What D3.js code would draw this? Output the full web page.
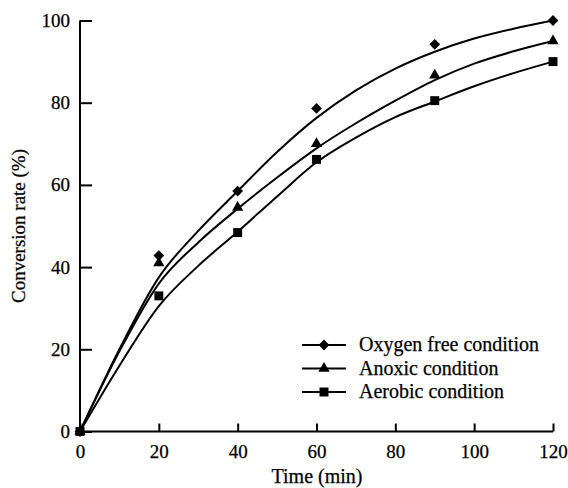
<!DOCTYPE html>
<html>
<head>
<meta charset="utf-8">
<script src="https://cdn.jsdelivr.net/npm/d3@7"></script>
<style>
  body { margin: 0; background: #fff; }
  svg text { font-family: "Times New Roman", "Liberation Serif", Times, serif; fill: #000; stroke: #000; stroke-width: 0.25px; }
</style>
</head>
<body>
<div id="chart"></div>
<script>
// measured points
var times = [0, 20, 40, 60, 90, 120];
var oxygenFree = [0, 42.8, 58.5, 78.6, 94.2, 100];
var anoxic = [0, 41, 54.5, 70, 86.7, 95];
var aerobic = [0, 33, 48.4, 66.2, 80.5, 90];

// fitted curves, every 10 min
var curveTimes = [0, 10, 20, 30, 40, 50, 60, 70, 80, 90, 100, 110, 120];
var oxygenFreeFit = [0, 20, 37.5, 48.8, 58.5, 68, 76.3, 83, 88.3, 92.4, 95.6, 98, 100];
var anoxicFit = [0, 19.5, 36, 46, 54.2, 61.8, 68.9, 75, 80.5, 85.5, 89.5, 92.5, 95];
var aerobicFit = [0, 16, 30.5, 40.3, 48.6, 57.2, 65.5, 71.5, 76.5, 80.3, 84, 87.2, 90];

var seriesNames = ['Oxygen free condition', 'Anoxic condition', 'Aerobic condition'];
var xTicks = [0, 20, 40, 60, 80, 100, 120];
var yTicks = [0, 20, 40, 60, 80, 100];

var w = 568, h = 488;
var x = d3.scaleLinear().domain([0, 120]).range([80, 553]);
var y = d3.scaleLinear().domain([0, 100]).range([431.5, 20.5]);

var svg = d3.select('#chart').append('svg')
  .attr('width', w)
  .attr('height', h);

// diamond is a square turned 45 degrees
var series = [
  { name: seriesNames[0], pts: oxygenFree, fit: oxygenFreeFit, sym: d3.symbolSquare, size: 58, rot: 45 },
  { name: seriesNames[1], pts: anoxic, fit: anoxicFit, sym: d3.symbolTriangle, size: 55, rot: 0 },
  { name: seriesNames[2], pts: aerobic, fit: aerobicFit, sym: d3.symbolSquare, size: 80, rot: 0 }
];

var line = d3.line()
  .x(function(d) { return x(d[0]); })
  .y(function(d) { return y(d[1]); })
  .curve(d3.curveMonotoneX);

series.forEach(function(s) {
  svg.append('path')
    .datum(curveTimes.map(function(t, i) { return [t, s.fit[i]]; }))
    .attr('d', line)
    .attr('fill', 'none')
    .attr('stroke', '#000')
    .attr('stroke-width', 2);

  svg.append('g').selectAll('path')
    .data(times.map(function(t, i) { return [t, s.pts[i]]; }))
    .enter().append('path')
    .attr('d', d3.symbol().type(s.sym).size(s.size))
    .attr('transform', function(d) { return 'translate(' + x(d[0]) + ',' + y(d[1]) + ') rotate(' + s.rot + ')'; })
    .attr('fill', '#000');
});

// axes, ticks pointing inward
var xaxis = d3.axisBottom(x).tickValues(xTicks).tickSize(-8).tickPadding(13);
var yaxis = d3.axisLeft(y).tickValues(yTicks).tickSize(-12).tickPadding(10);

var gx = svg.append('g')
  .attr('transform', 'translate(0,431.5)')
  .call(xaxis);
var gy = svg.append('g')
  .attr('transform', 'translate(80,0)')
  .call(yaxis);

[gx, gy].forEach(function(g) {
  g.attr('font-family', null);
  g.select('.domain').attr('stroke-width', 2);
  g.selectAll('.tick line').attr('stroke-width', 2);
  g.selectAll('.tick text').attr('font-size', 19);
});
gx.select('.domain').attr('d', 'M80,0H553');
gy.select('.domain').attr('d', 'M0,431.5V20.5');

svg.append('text')
  .attr('x', 317)
  .attr('y', 483)
  .attr('text-anchor', 'middle')
  .attr('font-size', 20)
  .text('Time (min)');

svg.append('text')
  .attr('transform', 'translate(25,226) rotate(-90)')
  .attr('text-anchor', 'middle')
  .attr('font-size', 19)
  .text('Conversion rate (%)');

// legend
var legend = svg.append('g');
series.forEach(function(s, i) {
  var ly = 345 + i * 23.5;
  legend.append('line')
    .attr('x1', 302).attr('x2', 346)
    .attr('y1', ly).attr('y2', ly)
    .attr('stroke', '#000')
    .attr('stroke-width', 2);
  legend.append('path')
    .attr('d', d3.symbol().type(s.sym).size(s.size))
    .attr('transform', 'translate(324,' + ly + ') rotate(' + s.rot + ')')
    .attr('fill', '#000');
  legend.append('text')
    .attr('x', 359)
    .attr('y', ly + 6)
    .attr('font-size', 20)
    .text(s.name);
});
</script>
</body>
</html>
